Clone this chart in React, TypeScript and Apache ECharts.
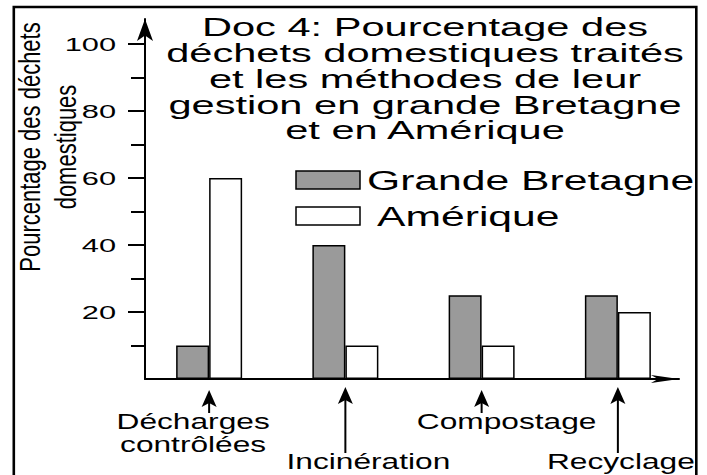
import React, { useEffect, useRef } from 'react';
import * as echarts from 'echarts';

// ---------- data ----------
const categories = ['Décharges\ncontrôlées', 'Incinération', 'Compostage', 'Recyclage'];
const seriesNames = ['Grande Bretagne', 'Amérique'];
const gbValues = [10, 40, 25, 25];
const usValues = [60, 10, 10, 20];
const yTickLabels = [20, 40, 60, 80, 100];
const yMinorTicks = [10, 30, 50, 70, 90];
const titleLines = [
  'Doc 4: Pourcentage des',
  'déchets domestiques traités',
  'et les méthodes de leur',
  'gestion en grande Bretagne',
  'et en Amérique',
];
const yNameLines = ['Pourcentage des déchets', 'domestiques'];

// ---------- layout / style ----------
const W = 707;
const H = 475;
const FONT = '"Liberation Sans", Arial, Helvetica, sans-serif';
const GRAY = '#9a9a9a';
const AXIS_BOTTOM = 96; // distance of the x axis from the bottom
const AXIS_TOP = 19; // end of the y axis line
const BAR_TOP = 44; // pixel row of 100 %
const labelDx = [-16, 23, 25, 3];
const labelLow = [false, true, false, true];

const lineStyle = { color: '#000', width: 2 };

function buildOption() {
  const hA = H - AXIS_BOTTOM - AXIS_TOP;
  const hB = H - AXIS_BOTTOM - BAR_TOP;
  const yMaxA = (100 * hA) / hB;
  return {
    animation: false,
    backgroundColor: '#fff',
    grid: [
      { left: 145, right: 28, top: AXIS_TOP, bottom: AXIS_BOTTOM, containLabel: false, outerBoundsMode: 'none' },
      { left: 141, right: 21, top: BAR_TOP, bottom: AXIS_BOTTOM, containLabel: false, outerBoundsMode: 'none' },
    ],
    xAxis: [
      {
        gridIndex: 0,
        type: 'value',
        min: 0,
        max: 1,
        axisLine: { show: true, onZero: true, symbol: ['none', 'arrow'], symbolSize: [6, 28], lineStyle },
        axisTick: { show: false },
        axisLabel: { show: false },
        splitLine: { show: false },
      },
      {
        gridIndex: 1,
        type: 'category',
        data: categories,
        axisLine: { show: false },
        axisTick: { show: false },
        axisLabel: { show: false },
        splitLine: { show: false },
      },
    ],
    yAxis: [
      {
        gridIndex: 0,
        type: 'value',
        position: 'left',
        min: 0,
        max: yMaxA,
        axisLine: { show: true, symbol: ['none', 'arrow'], symbolSize: [12, 22], lineStyle },
        axisTick: { show: true, length: 17, customValues: yTickLabels, lineStyle },
        axisLabel: { show: false },
        splitLine: { show: false },
      },
      {
        gridIndex: 1,
        type: 'value',
        position: 'left',
        min: 0,
        max: 100,
        show: false,
        splitLine: { show: false },
      },
      {
        gridIndex: 0,
        type: 'value',
        position: 'left',
        min: 0,
        max: yMaxA,
        axisLine: { show: false },
        axisTick: { show: true, length: 14, customValues: yMinorTicks, lineStyle },
        axisLabel: { show: false },
        splitLine: { show: false },
      },
    ],
    series: [
      {
        name: seriesNames[0],
        type: 'bar',
        xAxisIndex: 1,
        yAxisIndex: 1,
        data: gbValues,
        barWidth: 33,
        barGap: '0%',
        itemStyle: { color: GRAY, borderColor: '#000', borderWidth: 1.5 },
      },
      {
        name: seriesNames[1],
        type: 'bar',
        xAxisIndex: 1,
        yAxisIndex: 1,
        data: usValues,
        barWidth: 33,
        barGap: '0%',
        itemStyle: { color: '#fff', borderColor: '#000', borderWidth: 1.5 },
      },
    ],
  };
}

function text(
  t: string,
  x: number,
  y: number,
  fontSize: number,
  align: string,
  extra: Record<string, unknown> = {},
  styleExtra: Record<string, unknown> = {}
) {
  return {
    type: 'text',
    x,
    y,
    silent: true,
    z: 10,
    ...extra,
    style: {
      text: t,
      fontSize,
      fontFamily: FONT,
      fill: '#000',
      align,
      textAlign: align,
      verticalAlign: 'middle',
      textVerticalAlign: 'middle',
      ...styleExtra,
    },
  };
}

export default function App() {
  const ref = useRef<HTMLDivElement>(null);

  useEffect(() => {
    const el = ref.current;
    if (!el) return;
    const chart = echarts.init(el, null, { renderer: 'svg' });
    chart.setOption(buildOption() as any);

    const axisY = chart.convertToPixel({ yAxisIndex: 0 }, 0) as number;
    const g: any[] = [];

    // frame
    g.push({
      type: 'rect',
      silent: true,
      z: 20,
      shape: { x: 13.8, y: 7, width: 682.5, height: 540 },
      style: { fill: 'none', stroke: '#000', lineWidth: 2.6 },
    });

    // title
    g.push(
      text(titleLines.join('\n'), 425, 79, 26, 'center', { scaleX: 1.6 }, { lineHeight: 25.75 })
    );

    // y axis name (rotated)
    g.push(text(yNameLines[0], 30, 147, 22, 'center', { rotation: Math.PI / 2, scaleY: 1.35 }));
    g.push(text(yNameLines[1], 66, 147, 22, 'center', { rotation: Math.PI / 2, scaleY: 1.35 }));

    // tick labels
    yTickLabels.forEach((v) => {
      const y = chart.convertToPixel({ yAxisIndex: 0 }, v) as number;
      g.push(text(String(v), 116, y, 19, 'right', { scaleX: 1.62 }));
    });

    // legend
    const legendFill = [GRAY, '#fff'];
    const legendTextX = [367, 377];
    seriesNames.forEach((name, i) => {
      const top = 171 + i * 36;
      g.push({
        type: 'rect',
        silent: true,
        z: 10,
        shape: { x: 296, y: top, width: 64, height: 18 },
        style: { fill: legendFill[i], stroke: '#000', lineWidth: 1.5 },
      });
      g.push(text(name, legendTextX[i], top + 10, 27, 'left', { scaleX: 1.58 }));
    });

    // category labels with arrows
    categories.forEach((c, i) => {
      const x = chart.convertToPixel({ xAxisIndex: 1 }, i) as number;
      const low = labelLow[i];
      const tip = axisY + (low ? 8 : 11);
      const end = axisY + (low ? 74 : 34);
      g.push({
        type: 'line',
        silent: true,
        z: 10,
        shape: { x1: x, y1: tip + 12, x2: x, y2: end },
        style: { stroke: '#000', lineWidth: 2 },
      });
      g.push({
        type: 'polygon',
        silent: true,
        z: 10,
        shape: {
          points: [
            [x, tip],
            [x + 7.5, tip + 17],
            [x, tip + 13],
            [x - 7.5, tip + 17],
          ],
        },
        style: { fill: '#000' },
      });
      const lines = c.split('\n').length;
      const cy = axisY + (low ? 82 : 42) + ((lines - 1) * 23) / 2;
      g.push(text(c, x + labelDx[i], cy, 22, 'center', { scaleX: 1.44 }, { lineHeight: 23 }));
    });

    chart.setOption({ graphic: g });

    return () => {
      chart.dispose();
    };
  }, []);

  return (
    <div
      ref={ref}
      style={{ position: 'fixed', left: 0, top: 0, width: W, height: H, background: '#fff' }}
    />
  );
}
